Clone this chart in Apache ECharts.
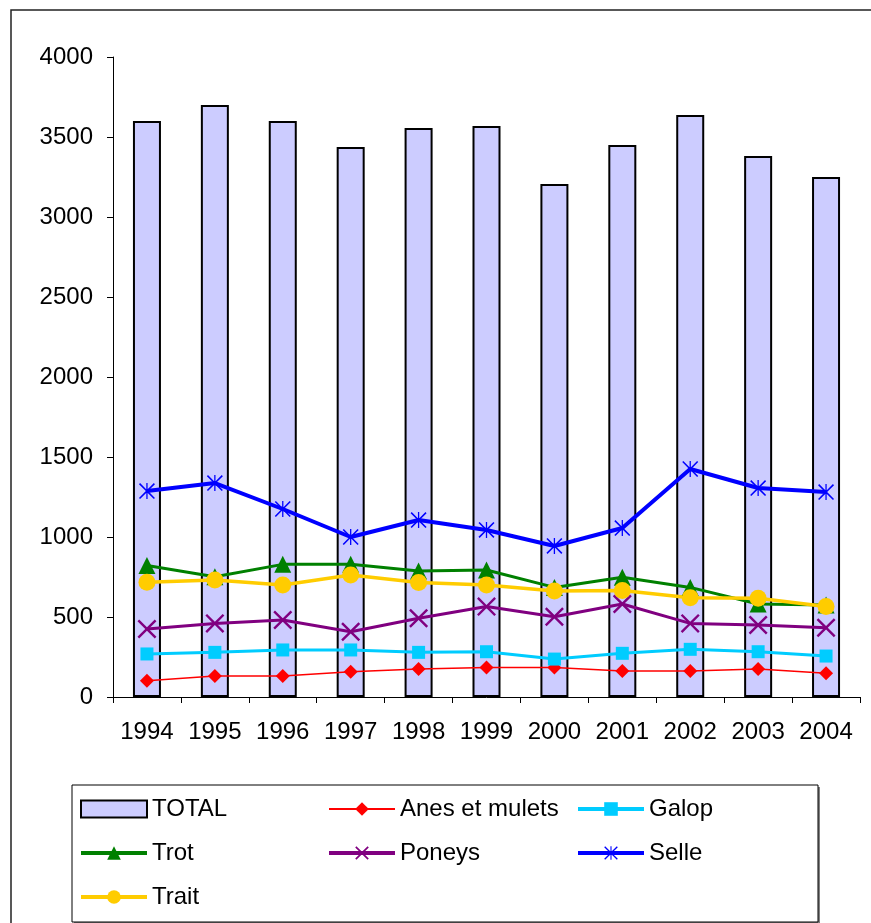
<!DOCTYPE html>
<html>
<head>
<meta charset="utf-8">
<script src="https://cdn.jsdelivr.net/npm/echarts@6/dist/echarts.min.js"></script>
<style>html,body{margin:0;padding:0;background:#fff;}#c{width:871px;height:923px;}</style>
</head>
<body>
<div id="c"></div>
<script>
var years = ['1994','1995','1996','1997','1998','1999','2000','2001','2002','2003','2004'];
var yTicks = [0, 500, 1000, 1500, 2000, 2500, 3000, 3500, 4000];
var total = [3600, 3700, 3600, 3437, 3556, 3569, 3206, 3450, 3637, 3381, 3250];
var anes = [102, 131, 131, 158, 175, 185, 185, 162, 162, 175, 148];
var galop = [269, 279, 294, 294, 279, 283, 237, 273, 298, 283, 256];
var trot = [822, 752, 829, 829, 787, 794, 685, 748, 685, 581, 575];
var poneys = [425, 460, 481, 408, 492, 565, 502, 581, 460, 450, 433];
var selle = [1287, 1337, 1175, 1000, 1106, 1044, 944, 1056, 1425, 1306, 1281];
var trait = [717, 731, 700, 762, 715, 700, 662, 665, 621, 617, 565];

var FONT = '"Liberation Sans", Arial, sans-serif';
var xPath = 'path://M0,9 L9,0 L50,41 L91,0 L100,9 L59,50 L100,91 L91,100 L50,59 L9,100 L0,91 L41,50 Z';
var starPath = 'path://M0,7 L7,0 L50,43 L93,0 L100,7 L57,50 L100,93 L93,100 L50,57 L7,100 L0,93 L43,50 Z M46,0 L54,0 L54,100 L46,100 Z';

function lineSeries(name, data, color, width, symbol, size) {
  return {
    name: name, type: 'line', data: data,
    symbol: symbol, symbolSize: size, showSymbol: true,
    lineStyle: { color: color, width: width },
    itemStyle: { color: color, borderWidth: 0 },
    emphasis: { disabled: true },
    z: 3
  };
}
function legItem(name, color, width) {
  return { name: name, lineStyle: { color: color, width: width } };
}

var chart = echarts.init(document.getElementById('c'), null, { renderer: 'canvas' });
var legendText = { fontFamily: FONT, fontSize: 24, color: '#000', lineHeight: 24 };
var legendCommon = {
  orient: 'vertical', top: 797, padding: 0, itemWidth: 66, itemHeight: 17, itemGap: 20,
  textStyle: legendText, selectedMode: false, z: 10
};
chart.setOption({
  animation: false,
  backgroundColor: '#fff',
  graphic: [
    { type: 'rect', shape: { x: 11, y: 10, width: 900, height: 950 }, style: { fill: 'none', stroke: '#222', lineWidth: 1.5 }, z: 0 },
    { type: 'rect', shape: { x: 74, y: 787, width: 746, height: 137 }, style: { fill: '#808080' }, z: 1 },
    { type: 'rect', shape: { x: 72, y: 785, width: 746, height: 137 }, style: { fill: '#fff', stroke: '#000', lineWidth: 1 }, z: 2 }
  ],
  legend: [
    Object.assign({}, legendCommon, { left: 79, data: [
      { name: 'TOTAL', icon: 'rect', itemStyle: { color: '#CCCCFF', borderColor: '#000', borderWidth: 2 } },
      legItem('Trot', '#008000', 4), legItem('Trait', '#FFCC00', 4)] }),
    Object.assign({}, legendCommon, { left: 327, data: [legItem('Anes et mulets', '#FF0000', 2), legItem('Poneys', '#800080', 4)] }),
    Object.assign({}, legendCommon, { left: 576, data: [legItem('Galop', '#00CCFF', 4), legItem('Selle', '#0000FF', 4)] })
  ],
  grid: { left: 113, right: 11, top: 57, bottom: 226, containLabel: false },
  xAxis: {
    type: 'category', data: years, boundaryGap: true,
    axisLine: { lineStyle: { color: '#000', width: 1 } },
    axisTick: { show: true, length: 6, interval: 0, lineStyle: { color: '#000' } },
    axisLabel: { fontFamily: FONT, fontSize: 24, color: '#000', margin: 23, interval: 0, hideOverlap: false },
    splitLine: { show: false }
  },
  yAxis: {
    type: 'value', min: yTicks[0], max: yTicks[yTicks.length - 1], interval: yTicks[1] - yTicks[0],
    axisLine: { show: true, lineStyle: { color: '#000', width: 1 } },
    axisTick: { show: true, length: 6, lineStyle: { color: '#000' } },
    axisLabel: { fontFamily: FONT, fontSize: 24, color: '#000', margin: 20, formatter: function (v) { return String(v); } },
    splitLine: { show: false }
  },
  series: [
    { name: 'TOTAL', type: 'bar', data: total, barWidth: 28,
      itemStyle: { color: '#CCCCFF', borderColor: '#000', borderWidth: 2 },
      emphasis: { disabled: true }, z: 2 },
    lineSeries('Anes et mulets', anes, '#FF0000', 1.5, 'diamond', 14),
    lineSeries('Galop', galop, '#00CCFF', 3, 'rect', 13),
    lineSeries('Trot', trot, '#008000', 3, 'triangle', 17),
    lineSeries('Poneys', poneys, '#800080', 3, xPath, 19),
    lineSeries('Selle', selle, '#0000FF', 4, starPath, 16),
    lineSeries('Trait', trait, '#FFCC00', 3.5, 'circle', 17)
  ]
});
</script>
</body>
</html>
